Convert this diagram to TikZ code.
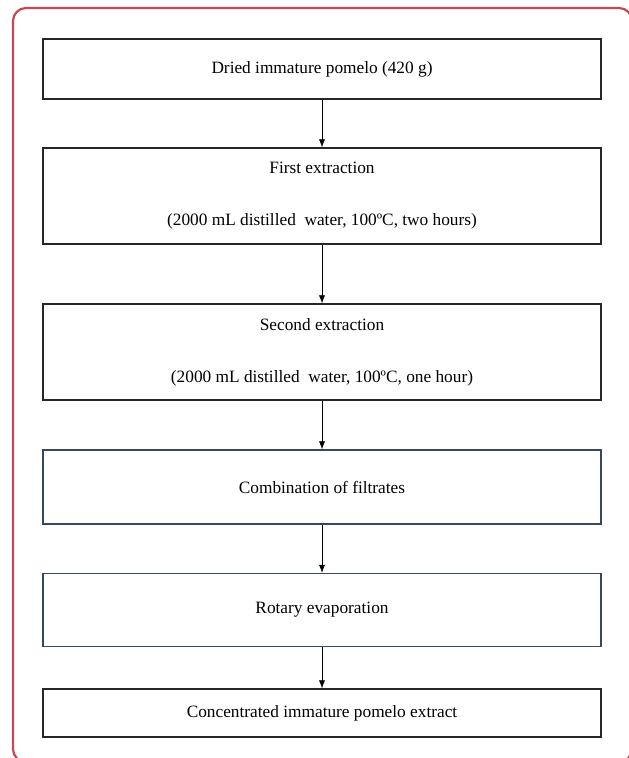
\documentclass[tikz,border=0pt]{standalone}
\usepackage{fontspec}
\setmainfont{Liberation Serif}
\usetikzlibrary{arrows.meta,positioning}
\definecolor{framered}{RGB}{200,72,82}
\definecolor{boxblue}{RGB}{52,72,100}
\begin{document}
\begin{tikzpicture}[x=1pt,y=-1pt,
  stepbox/.style={draw=black!85,line width=1.3pt,minimum width=558pt,inner sep=0pt,align=center,font=\fontsize{17.3}{20}\selectfont},
  bluebox/.style={stepbox,draw=boxblue},
  flow/.style={-{Latex[length=8pt,width=6pt]},line width=0.6pt}]
\useasboundingbox (0,0) rectangle (629,758);
\draw[framered,line width=2.2pt,rounded corners=13pt] (13,8) rectangle (632,762);
\node[stepbox,minimum height=60pt](dried) at (322,69){Dried immature pomelo (420 g)};
\node[stepbox,minimum height=96pt](first) at (322,196){First extraction\\[32pt](2000 mL distilled\ \ water, 100ºC, two hours)};
\node[stepbox,minimum height=96pt](second) at (322,352){Second extraction\\[32pt](2000 mL distilled\ \ water, 100ºC, one hour)};
\node[bluebox,minimum height=74pt](comb) at (322,487){Combination of filtrates};
\node[bluebox,minimum height=73pt](rotary) at (322,610){Rotary evaporation};
\node[stepbox,minimum height=48pt](conc) at (322,713){Concentrated immature pomelo extract};
\draw[flow](dried)--(first);
\draw[flow](first)--(second);
\draw[flow](second)--(comb);
\draw[flow](comb)--(rotary);
\draw[flow](rotary)--(conc);
\end{tikzpicture}
\end{document}
